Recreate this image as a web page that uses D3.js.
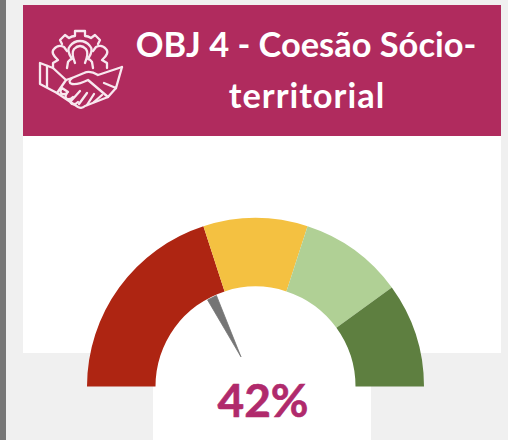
<!DOCTYPE html>
<html><head><meta charset="utf-8">
<script src="https://cdn.jsdelivr.net/npm/d3@7"></script>
<style>html,body{margin:0;padding:0;background:#f0f0f0;overflow:hidden}svg{display:block}</style>
</head><body><svg id="c" width="508" height="440"></svg>
<script>
const titleLines = ["OBJ 4 - Coesão Sócio-", "territorial"];
const bandNames = ["Crítico", "Atenção", "Bom", "Ótimo"];
const bandValues = [40, 20, 20, 20];
const bandColors = ["#ae2512", "#f4c141", "#b0d095", "#5e7f40"];
const needleValue = [35.5];
const labelText = "42%";

const svg = d3.select("#c");
const maroon = "#b02b5e", fontFam = "Lato, 'Open Sans', sans-serif";

// page furniture
svg.append("rect").attr("x",0).attr("y",0).attr("width",508).attr("height",440).attr("fill","#f0f0f0");
svg.append("rect").attr("x",0).attr("y",0).attr("width",6).attr("height",440).attr("fill","#777777");
svg.append("rect").attr("x",23).attr("y",136).attr("width",478).attr("height",217).attr("fill","#ffffff");
svg.append("rect").attr("x",153).attr("y",340).attr("width",218).attr("height",100).attr("fill","#ffffff");
svg.append("rect").attr("x",23).attr("y",5).attr("width",478).attr("height",131).attr("fill",maroon);

// title
svg.append("g").selectAll("text").data(titleLines).join("text")
  .attr("x",(d,i)=> i===0 ? 306 : 307).attr("y",(d,i)=> i===0 ? 57 : 108)
  .attr("text-anchor","middle").attr("fill","#ffffff")
  .attr("font-family",fontFam).attr("font-weight",700).attr("font-size",34.4)
  .attr("letter-spacing",(d,i)=> i===0 ? 0 : 1)
  .text(d=>d);

// icon
const icon = svg.append("g").attr("fill","none").attr("stroke","#f8e8ef").attr("stroke-width",2.3)
  .attr("stroke-linejoin","round").attr("stroke-linecap","round");
[
 "M62 44 L60 40 L65 35 L69 38 Q72 36 75 36 L75 31 L85 31 L85 36 Q88 36 91 38 L95 35 L100 40 L98 44",
 "M67 68 L68 62 Q70 59 72 59 Q66 50 70 46 Q74 41 80 41 Q86 41 90 46 Q94 50 88 59 Q90 59 92 62 L93 68",
 "M75 63 Q71 53 74 49 Q77 46 80 46 Q83 46 86 49 Q89 53 85 63",
 "M53 68 L53 63 L58 60 Q50 53 54 49 Q58 44 64 47 L67 51",
 "M107 68 L107 63 L102 60 Q110 53 106 49 Q102 44 96 47 L93 51",
 "M40 63 L40 84 L57 93 L66 80 L53 68 Z",
 "M47 66 L47 87",
 "M122 67 L98 75 Q90 70 84 73 L72 78 Q67 82 72 84 Q78 85 88 80 L108 97",
 "M122 67 L116 88 L104 83",
 "M66 80 L72 78",
 "M57 93 L78 107 Q82 109 85 106 L108 97 L116 88",
 "M62 88 Q59 92 62 94 Q65 95 68 92 L62 88 M67 93 Q64 97 67 99 Q70 100 73 97 M72 98 Q69 102 72 104 Q75 105 78 102",
 "M80 91 L71 101 M87 93 L79 104 M94 94 L87 105 M102 95 L94 102"
].forEach(d => icon.append("path").attr("d", d));

// gauge
const cx = 255.5, cy = 386.5, R = 168.5, r = 100;
const g = svg.append("g").attr("transform",`translate(${cx},${cy})`);
const total = d3.sum(bandValues);
const angle = d3.scaleLinear().domain([0,total]).range([-Math.PI/2, Math.PI/2]);
const pie = d3.pie().sort(null).startAngle(angle(0)).endAngle(angle(total));
const arc = d3.arc().innerRadius(r).outerRadius(R);
g.selectAll("path.band").data(pie(bandValues)).join("path").attr("class","band")
  .attr("d",arc).attr("fill",(d,i)=>bandColors[i]);

// needle
const needleLine = d3.lineRadial().angle(d=>d[0]).radius(d=>d[1]);
const a = angle(needleValue[0]);
g.append("path").attr("fill","#757575").attr("stroke","#757575").attr("stroke-width",0.8)
  .attr("stroke-linejoin","round")
  .attr("d", needleLine([[a,33],[a-0.05,99],[a+0.05,99]])+"Z");

// value
svg.append("text").attr("x",263).attr("y",417).attr("text-anchor","middle")
  .attr("font-family",fontFam).attr("font-weight",700).attr("font-size",46)
  .attr("stroke","#b02a6c").attr("stroke-width",0.6)
  .attr("fill","#b02a6c").text(labelText);
</script></body></html>
